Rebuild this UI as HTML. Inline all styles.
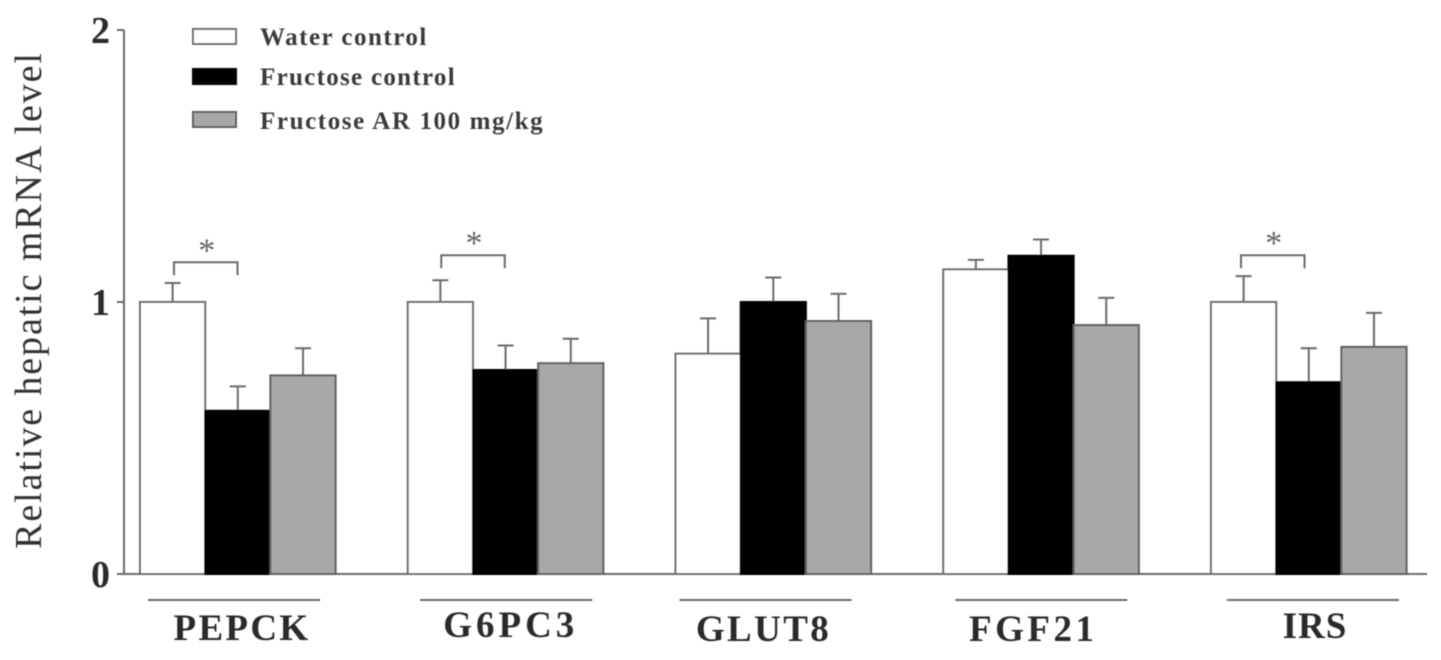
<!DOCTYPE html>
<html>
<head>
<meta charset="utf-8">
<style>
html,body{margin:0;padding:0;background:#fff;width:1441px;height:660px;overflow:hidden}
svg{display:block}
text{font-family:"Liberation Serif",serif}
</style>
</head>
<body>
<svg id="chart" width="1441" height="660" viewBox="0 0 1441 660" xmlns="http://www.w3.org/2000/svg">
<defs><filter id="soft" x="-5%" y="-5%" width="110%" height="110%"><feGaussianBlur stdDeviation="0.6"/></filter></defs>
<g id="root" filter="url(#soft)"></g>
</svg>
<script>
const categories = ["PEPCK", "G6PC3", "GLUT8", "FGF21", "IRS"];
const seriesNames = ["Water control", "Fructose control", "Fructose AR 100 mg/kg"];
const waterValues = [1.0, 1.0, 0.81, 1.12, 1.0];
const fructoseValues = [0.6, 0.75, 1.0, 1.17, 0.705];
const arValues = [0.73, 0.775, 0.93, 0.915, 0.835];
const waterErrors = [0.07, 0.08, 0.13, 0.035, 0.095];
const fructoseErrors = [0.09, 0.09, 0.09, 0.06, 0.125];
const arErrors = [0.10, 0.09, 0.10, 0.10, 0.125];
const yTicks = [0, 1, 2];
const significantGroups = [0, 1, 4];
const bracketLevels = [1.146, 1.172, 1.172];

const SVGNS = "http://www.w3.org/2000/svg";
const root = document.getElementById("root");
const AXIS = "#6a6a6a";
const seriesValues = [waterValues, fructoseValues, arValues];
const seriesErrors = [waterErrors, fructoseErrors, arErrors];
const seriesFill = ["#ffffff", "#000000", "#a8a8a8"];
const seriesStroke = ["#6a6a6a", "#000000", "#5f5f5f"];

function yScale(v) { return 574 - v * 272; }
function groupX(i) { return 140 + i * 267.75; }
function barX(i, s) { return groupX(i) + s * 65.2; }
const BAR_W = 65.2;

const underlineOffset = [8, 12.5, 4, 12, 16];
const labelCenterOffset = [102, 103, 88, 90, 104];
const labelBaseline = [640, 637, 641, 641, 638];
const labelSpacing = [2.3, 4, 2.4, 3.5, 1];
const bracketStartOffset = [34, 33.5, 30];
const legendSpacing = [1.5, 1.3, 1.6];

function make(tag, attrs, parent, txt) {
  const el = document.createElementNS(SVGNS, tag);
  for (const k in attrs) el.setAttribute(k, attrs[k]);
  if (txt !== undefined) el.textContent = txt;
  (parent || root).appendChild(el);
  return el;
}

// y axis
const yAxis = make("line", {x1: 124, x2: 124, y1: yScale(2), y2: yScale(0), stroke: AXIS, "stroke-width": 2});



// x axis
const xAxis = make("line", {x1: 117, x2: 1427, y1: yScale(0), y2: yScale(0), stroke: AXIS, "stroke-width": 2});



// y ticks
yTicks.forEach(function (t) {
  const tick = make("line", {x1: 117, x2: 124, y1: yScale(t), y2: yScale(t), stroke: AXIS, "stroke-width": 2});
  
  
  const lab = make("text", {x: 110, y: yScale(t) + 13, "text-anchor": "end", "font-size": 38, "font-weight": "bold", fill: "#2a2a2a"}, root, String(t));
  
  
});

// y axis title
const yTitle = make("text", {x: 0, y: 0, transform: "translate(41,300) rotate(-90)", "text-anchor": "middle", "font-size": 38, "letter-spacing": "1.9", fill: "#333"}, root, "Relative hepatic mRNA level");



// bars and error bars
categories.forEach(function (cat, i) {
  seriesValues.forEach(function (vals, s) {
    const x = barX(i, s);
    const top = yScale(vals[i]);
    const errTop = yScale(vals[i] + seriesErrors[s][i]);
    const cx = x + BAR_W / 2;
    const stem = make("line", {x1: cx, x2: cx, y1: top, y2: errTop, stroke: AXIS, "stroke-width": 2});
    
    
    const cap = make("line", {x1: cx - 8, x2: cx + 8, y1: errTop, y2: errTop, stroke: AXIS, "stroke-width": 2});
    
    
    const bar = make("rect", {x: x, y: top, width: BAR_W, height: yScale(0) - top, fill: seriesFill[s], stroke: seriesStroke[s], "stroke-width": 2});
    
    
  });

  const ux = groupX(i) + underlineOffset[i];
  const ul = make("line", {x1: ux, x2: ux + 172, y1: 600, y2: 600, stroke: AXIS, "stroke-width": 2});
  
  
  const lab = make("text", {x: groupX(i) + labelCenterOffset[i], y: labelBaseline[i], "text-anchor": "middle", "font-size": 37, "font-weight": "bold", "letter-spacing": labelSpacing[i], fill: "#2a2a2a"}, root, cat);
  
  
});

// significance brackets
significantGroups.forEach(function (g, k) {
  const x1 = groupX(g) + bracketStartOffset[k];
  const x2 = x1 + 63.5;
  const y = yScale(bracketLevels[k]);
  const br = make("path", {d: "M" + x1 + " " + (y + 13) + "V" + y + "H" + x2 + "V" + (y + 13), fill: "none", stroke: AXIS, "stroke-width": 2});
  
  
  const st = make("text", {x: (x1 + x2) / 2 + 1, y: y - 1, "text-anchor": "middle", "font-size": 34, fill: "#666"}, root, "*");
  
  
});

// legend
const legendY = [37, 77, 120];
seriesNames.forEach(function (name, s) {
  const sw = make("rect", {x: 193, y: legendY[s] - 8, width: 43, height: 15, fill: seriesFill[s], stroke: seriesStroke[s], "stroke-width": 2});
  
  
  const t = make("text", {x: 260, y: legendY[s] + 8 + (s === 2 ? 1 : 0), "font-size": 25, "font-weight": "bold", "letter-spacing": legendSpacing[s], fill: "#3a3a3a"}, root, name);
  
  
});
</script>
</body>
</html>
